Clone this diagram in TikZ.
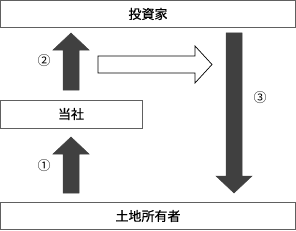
\documentclass[tikz,border=0pt]{standalone}
\usepackage{fontspec}
\setmainfont{Noto Sans CJK JP}
\newfontfamily\partyfont[FakeBold=0.4]{Noto Sans CJK JP}
\definecolor{arrowgray}{HTML}{404040}
\definecolor{boxgray}{HTML}{606060}
\begin{document}
\begin{tikzpicture}[x=1pt,y=-1pt,line join=miter]
  \useasboundingbox (0,0) rectangle (296,230);
  \tikzset{
    partybox/.style={draw=boxgray,line width=0.8pt,fill=white},
    partytext/.style={font=\partyfont\fontsize{13}{13}\selectfont,inner sep=0pt},
    blockarrow/.style={fill=arrowgray,draw=arrowgray,line width=0.5pt},
    hollowarrow/.style={fill=white,draw=black,line width=0.7pt},
    steplabel/.style={font=\fontsize{13}{13}\selectfont,inner sep=0pt}
  }
  % boxes
  \draw[partybox] (0.5,0.5) rectangle (295.5,27);
  \node[partytext] (investor) at (148,14) {投資家};
  \draw[partybox] (0.5,100) rectangle (142,128);
  \node[partytext] (company) at (71,114) {当社};
  \draw[partybox] (0.5,202) rectangle (295.5,229.5);
  \node[partytext] (owner) at (148,216) {土地所有者};
  % arrow 1
  \draw[blockarrow] (63,193) -- (63,154) -- (53,154) -- (71,137) -- (89,154) -- (79,154) -- (79,193) -- cycle;
  \node[steplabel] (one) at (44,166) {①};
  % arrow 2
  \draw[blockarrow] (63,90) -- (63,50) -- (53,50) -- (71,33) -- (89,50) -- (79,50) -- (79,90) -- cycle;
  \node[steplabel] (two) at (44,61) {②};
  % hollow arrow
  \draw[hollowarrow] (98,56) -- (195,56) -- (195,46) -- (212,64.5) -- (195,83) -- (195,73) -- (98,73) -- cycle;
  % arrow 3
  \draw[blockarrow] (226,33) -- (242,33) -- (242,176) -- (252,176) -- (234,193) -- (216,176) -- (226,176) -- cycle;
  \node[steplabel] (three) at (260,98) {③};
\end{tikzpicture}
\end{document}
